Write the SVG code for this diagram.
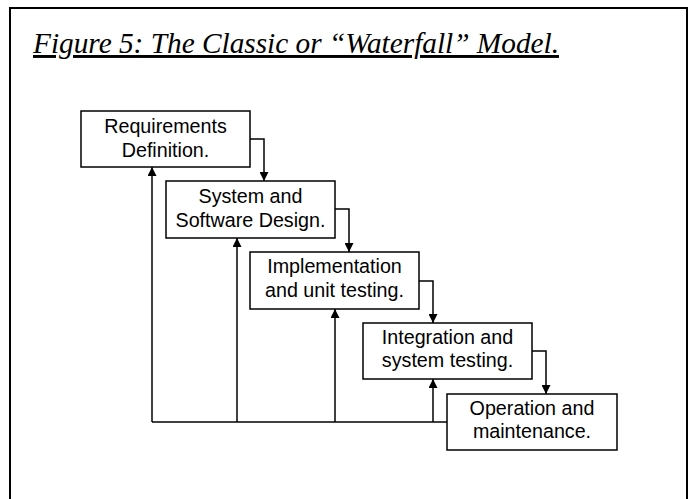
<svg xmlns="http://www.w3.org/2000/svg" width="688" height="499" viewBox="0 0 688 499">
<style>
.box{fill:#fff;stroke:#000;stroke-width:1.5}
.lbl{font-family:"Liberation Sans",Arial,sans-serif;font-size:19.7px;text-anchor:middle;fill:#000}
.con{fill:none;stroke:#000;stroke-width:1.5}
.title{font-family:"Liberation Serif","Times New Roman",serif;font-style:italic;font-size:29.3px;fill:#000;text-decoration:underline}
</style>
<defs>
<marker id="ah" viewBox="0 0 10 10" refX="10" refY="5" markerWidth="9" markerHeight="9" markerUnits="userSpaceOnUse" orient="auto">
<path d="M0,0 L10,5 L0,10 z" fill="#000"/>
</marker>
</defs>
<rect width="688" height="499" fill="#fff"/>
<path d="M10,499 V8 H687 V499" fill="none" stroke="#000" stroke-width="2"/>
<text class="title" x="33" y="53">Figure 5: The Classic or “Waterfall” Model.</text>
<g id="connectors">
<path class="con" d="M250,139 H264 V181" marker-end="url(#ah)"/>
<path class="con" d="M335,209 H349 V252" marker-end="url(#ah)"/>
<path class="con" d="M419,281 H433 V323" marker-end="url(#ah)"/>
<path class="con" d="M532,351 H546 V394" marker-end="url(#ah)"/>
<path class="con" d="M447,422 H152"/>
<path class="con" d="M152,422 V167" marker-end="url(#ah)"/>
<path class="con" d="M237,422 V238" marker-end="url(#ah)"/>
<path class="con" d="M335,422 V309" marker-end="url(#ah)"/>
<path class="con" d="M433,422 V379" marker-end="url(#ah)"/>
</g>
<g id="requirements">
<rect class="box" x="81" y="111" width="169" height="56"/>
<text class="lbl" x="165.5" y="133">Requirements</text>
<text class="lbl" x="165.5" y="157">Definition.</text>
</g>
<g id="design">
<rect class="box" x="166" y="181" width="169" height="57"/>
<text class="lbl" x="250.5" y="203">System and</text>
<text class="lbl" x="250.5" y="227">Software Design.</text>
</g>
<g id="implementation">
<rect class="box" x="250" y="252" width="169" height="57"/>
<text class="lbl" x="334.5" y="273">Implementation</text>
<text class="lbl" x="334.5" y="297">and unit testing.</text>
</g>
<g id="integration">
<rect class="box" x="363" y="323" width="169" height="56"/>
<text class="lbl" x="447.5" y="344">Integration and</text>
<text class="lbl" x="447.5" y="367">system testing.</text>
</g>
<g id="operation">
<rect class="box" x="447" y="394" width="170" height="56"/>
<text class="lbl" x="532" y="415">Operation and</text>
<text class="lbl" x="532" y="438">maintenance.</text>
</g>
</svg>
